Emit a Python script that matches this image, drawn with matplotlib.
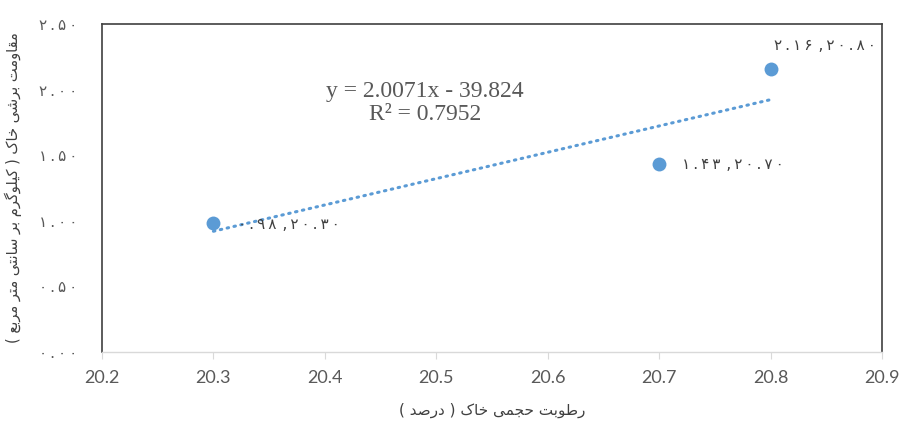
import matplotlib
matplotlib.use("Agg")
import matplotlib.pyplot as plt
from matplotlib.ticker import FuncFormatter, MultipleLocator
import numpy as np

# data
moisture = [20.3, 20.7, 20.8]
shear = [0.98, 1.43, 2.16]
slope = 2.0071
intercept = -39.824
r2 = 0.7952
x_label = "رطوبت حجمی خاک ( درصد )"
y_label = "مقاومت برشی خاک ( کیلوگرم بر سانتی متر مربع )"

# small hand-made arabic shaper (no arabic_reshaper / bidi available)
# forms: isolated, final, initial, medial
FORMS = {
    'ا': (0xFE8D, 0xFE8E, None, None),
    'ب': (0xFE8F, 0xFE90, 0xFE91, 0xFE92),
    'ت': (0xFE95, 0xFE96, 0xFE97, 0xFE98),
    'ج': (0xFE9D, 0xFE9E, 0xFE9F, 0xFEA0),
    'ح': (0xFEA1, 0xFEA2, 0xFEA3, 0xFEA4),
    'خ': (0xFEA5, 0xFEA6, 0xFEA7, 0xFEA8),
    'د': (0xFEA9, 0xFEAA, None, None),
    'ر': (0xFEAD, 0xFEAE, None, None),
    'س': (0xFEB1, 0xFEB2, 0xFEB3, 0xFEB4),
    'ش': (0xFEB5, 0xFEB6, 0xFEB7, 0xFEB8),
    'ص': (0xFEB9, 0xFEBA, 0xFEBB, 0xFEBC),
    'ط': (0xFEC1, 0xFEC2, 0xFEC3, 0xFEC4),
    'ع': (0xFEC9, 0xFECA, 0xFECB, 0xFECC),
    'ق': (0xFED5, 0xFED6, 0xFED7, 0xFED8),
    'ل': (0xFEDD, 0xFEDE, 0xFEDF, 0xFEE0),
    'م': (0xFEE1, 0xFEE2, 0xFEE3, 0xFEE4),
    'ن': (0xFEE5, 0xFEE6, 0xFEE7, 0xFEE8),
    'و': (0xFEED, 0xFEEE, None, None),
    'ک': (0xFB8E, 0xFB8F, 0xFB90, 0xFB91),
    'گ': (0xFB92, 0xFB93, 0xFB94, 0xFB95),
    'ی': (0xFBFC, 0xFBFD, 0xFBFE, 0xFBFF),
}


def shape(text):
    out = []
    n = len(text)
    for i, ch in enumerate(text):
        if ch not in FORMS:
            out.append(ch)
            continue
        prev = text[i - 1] if i > 0 else ''
        nxt = text[i + 1] if i < n - 1 else ''
        join_prev = prev in FORMS and FORMS[prev][2] is not None
        join_next = nxt in FORMS and FORMS[ch][2] is not None
        iso, fin, ini, med = FORMS[ch]
        if join_prev and join_next:
            code = med
        elif join_prev:
            code = fin
        elif join_next:
            code = ini
        else:
            code = iso
        out.append(chr(code))
    vis = ''.join(reversed(out))
    return vis.translate(str.maketrans('()', ')('))


FA_DIGITS = str.maketrans('0123456789', '۰۱۲۳۴۵۶۷۸۹')


def fa(v, sep='\u2009'):
    # persian digits, spread out a little like the excel rendering
    return sep.join(('%.2f' % v).translate(FA_DIGITS))


grey = '#595959'
blue = '#5B9BD5'

fig = plt.figure(figsize=(9.05, 4.22), dpi=100)
ax = fig.add_axes([0.1127, 0.166, 0.8619, 0.777])

# trendline
xt = np.array([moisture[0], moisture[-1]])
ax.plot(xt, slope * xt + intercept, color=blue, lw=2.2, ls=(0, (0.5, 1.8)),
        dash_capstyle='round', zorder=2)

ax.scatter(moisture, shear, s=100, color=blue, zorder=3, linewidths=0)

# data labels (offset in pixels)
offsets = [(25, -1), (23, 0), (3, 23)]
for x, y, (dx, dy) in zip(moisture, shear, offsets):
    ax.annotate(fa(y) + '\u2009\u2009,\u2009' + fa(x), (x, y),
                xytext=(dx, dy), textcoords='offset pixels',
                ha='left', va='center', fontsize=11, color='#404040',
                family='DejaVu Sans')

ax.text(0.414, 0.76, 'y = %.4fx - %.3f\nR² = %.4f' % (slope, -intercept, r2),
        transform=ax.transAxes, ha='center', va='center', fontsize=17,
        color=grey, family='Liberation Serif', linespacing=1.15)

ax.set_xlim(20.2, 20.9)
ax.set_ylim(0, 2.5)
ax.xaxis.set_major_locator(MultipleLocator(0.1))
ax.yaxis.set_major_locator(MultipleLocator(0.5))
ax.xaxis.set_major_formatter(FuncFormatter(lambda v, p: '%.1f' % v))
ax.yaxis.set_major_formatter(FuncFormatter(lambda v, p: fa(v, '\u2009')))

ax.tick_params(axis='x', direction='out', length=5, color='#D9D9D9',
               labelsize=13, labelcolor=grey, pad=8)
ax.tick_params(axis='y', length=0, labelsize=11, labelcolor=grey, pad=18)
for lab in ax.get_xticklabels():
    lab.set_family('Lato')

for s in ['top', 'left', 'right']:
    ax.spines[s].set_color('#404040')
    ax.spines[s].set_linewidth(1.2)
ax.spines['bottom'].set_color('#D9D9D9')
ax.spines['bottom'].set_linewidth(1)

ax.set_xlabel(shape(x_label), fontsize=11, color='#404040',
              family='DejaVu Sans', labelpad=12)
ax.set_ylabel(shape(y_label), fontsize=10.5, color='#404040',
              family='DejaVu Sans', labelpad=12)

fig.savefig('out.png', dpi=100)
